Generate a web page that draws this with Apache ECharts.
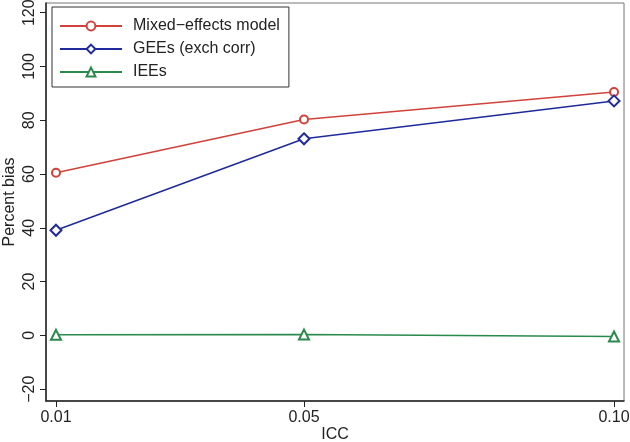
<!DOCTYPE html>
<html><head><meta charset="utf-8">
<script src="https://cdn.jsdelivr.net/npm/echarts@6/dist/echarts.min.js"></script>
<style>html,body{margin:0;padding:0;background:#fff}#c{width:630px;height:442px}</style>
</head><body><div id="c"></div>
<script>
const icc = [0.01, 0.05, 0.10];
const mixedEffects = [60.5, 80.3, 90.5];
const gees = [39.1, 73.1, 87.2];
const iees = [0.2, 0.3, -0.4];
const xTicks = [0.01, 0.05, 0.10];
const yTicks = [-20, 0, 20, 40, 60, 80, 100, 120];
const seriesNames = ['Mixed\u2212effects model', 'GEEs (exch corr)', 'IEEs'];

const font = 'Liberation Sans, Arial, sans-serif';
const pair = (vals) => icc.map((x, i) => [x, vals[i]]);

const chart = echarts.init(document.getElementById('c'), null, {renderer: 'canvas'});
chart.setOption({
  animation: false,
  backgroundColor: '#fff',
  grid: {left: 46, right: 6, top: 3, bottom: 41, containLabel: false, outerBoundsMode: 'none',
         show: true, borderColor: '#777', borderWidth: 1},
  legend: {
    orient: 'vertical', left: 52, top: 7,
    padding: [11, 9, 7, 7],
    borderColor: '#333', borderWidth: 1, backgroundColor: '#fff',
    itemWidth: 62, itemHeight: 11, itemGap: 7,
    textStyle: {fontFamily: font, fontSize: 16, color: '#222', padding: [0, 0, 0, 6]},
    data: seriesNames
  },
  xAxis: {
    type: 'value', min: 0.00839, max: 0.10161,
    name: 'ICC', nameLocation: 'middle', nameGap: 26, nameMoveOverlap: false,
    nameTextStyle: {fontFamily: font, fontSize: 16, color: '#222'},
    splitLine: {show: false},
    axisLine: {show: true, onZero: false, lineStyle: {color: '#222', width: 1.5}},
    axisTick: {show: true, length: 6, customValues: xTicks, lineStyle: {color: '#222'}},
    axisLabel: {customValues: xTicks, fontFamily: font, fontSize: 16, color: '#222', margin: 9,
      formatter: v => v.toFixed(2)}
  },
  yAxis: {
    type: 'value', min: -24.4, max: 123.6,
    name: 'Percent bias', nameLocation: 'middle', nameGap: 28, nameMoveOverlap: false,
    nameTextStyle: {fontFamily: font, fontSize: 16, color: '#222'},
    splitLine: {show: false},
    axisLine: {show: true, onZero: false, lineStyle: {color: '#222', width: 1.5}},
    axisTick: {show: true, length: 6, customValues: yTicks, lineStyle: {color: '#222'}},
    axisLabel: {customValues: yTicks, rotate: 90, fontFamily: font, fontSize: 16, color: '#222', margin: 8,
      formatter: v => String(v).replace('-', '\u2212')}
  },
  series: [
    {name: seriesNames[0], type: 'line', data: pair(mixedEffects), symbol: 'emptyCircle', symbolSize: 8,
     lineStyle: {color: '#d2423b', width: 1.5}, itemStyle: {color: '#d2423b', borderWidth: 1.5}},
    {name: seriesNames[1], type: 'line', data: pair(gees), symbol: 'emptyDiamond', symbolSize: 11,
     lineStyle: {color: '#1f2a9c', width: 1.5}, itemStyle: {color: '#1f2a9c', borderWidth: 1.5}},
    {name: seriesNames[2], type: 'line', data: pair(iees), symbol: 'emptyTriangle', symbolSize: 10,
     lineStyle: {color: '#2a8a4c', width: 1.5}, itemStyle: {color: '#2a8a4c', borderWidth: 1.5}}
  ]
});
</script></body></html>
